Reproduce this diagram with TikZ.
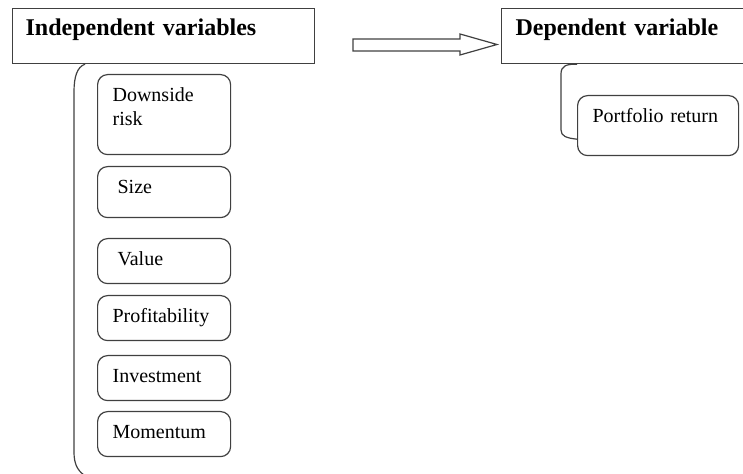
\documentclass[tikz,border=0pt]{standalone}
\usepackage{fontspec}
\setmainfont{Liberation Serif}
\begin{document}
\begin{tikzpicture}[
    x=0.5pt,
    y=-0.5pt,
    headbox/.style={draw=black!75, line width=0.6pt, anchor=north west,
      font=\bfseries\fontsize{12}{14}\selectfont, align=left,
      inner ysep=0pt, text height=13.5pt, text depth=14pt},
    varbox/.style={draw=black!75, line width=0.6pt, rounded corners=5pt,
      anchor=north west, font=\fontsize{10}{12}\selectfont, align=left,
      inner xsep=7.5pt, inner ysep=0pt, text width=51.5pt,
      text height=13.5pt, text depth=#1},
    varbox/.default=9pt,
    brace/.style={draw=black!75, line width=0.6pt}
  ]
    \useasboundingbox (0,0) rectangle (743,474);
    \node[headbox, inner xsep=6.5pt, text width=138pt] (indep) at (12,8) {Independent variables};
    \node[headbox, inner xsep=7pt, text width=108pt] (dep) at (501,8) {Dependent variable};
    \draw[brace] (353,39) -- (460,39) -- (460,34) -- (497,44.5) -- (460,55)
      -- (460,51) -- (353,51) -- cycle;
    \node[varbox=26.5pt] (risk) at (97,74) {Downside\\risk};
    \node[varbox=12pt] (size) at (97,166) {\hspace*{2.5pt}Size};
    \node[varbox] (value) at (97,238) {\hspace*{2.5pt}Value};
    \node[varbox] (profit) at (97,295) {Profitability};
    \node[varbox] (invest) at (97,355) {Investment};
    \node[varbox] (mom) at (97,411) {Momentum};
    \node[varbox=16.5pt, text width=65.5pt] (ret) at (577,95) {Portfolio return};
    \coordinate (leftend) at (84,475);
    \draw[brace] ([xshift=36.5pt]indep.south west) .. controls (77,67) and (74,77) .. (74,92)
      -- (74,452) .. controls (74,463) and (77,470) .. (leftend);
    \draw[brace] ([xshift=38pt]dep.south west) .. controls (566,64) and (561,66) .. (561,74)
      -- (561,130) .. controls (561,136) and (566,138) .. ([yshift=8.5pt]ret.south west);
  \end{tikzpicture}
\end{document}
